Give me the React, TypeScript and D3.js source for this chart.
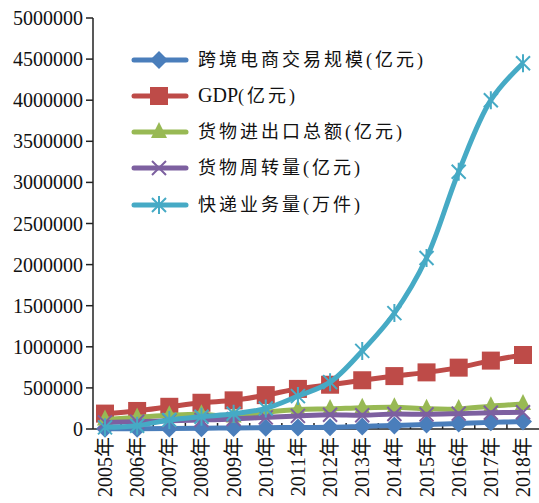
import React, { useRef, useEffect } from "react";
import * as d3 from "d3";

const years = ["2005年", "2006年", "2007年", "2008年", "2009年", "2010年", "2011年", "2012年", "2013年", "2014年", "2015年", "2016年", "2017年", "2018年"];

const ecommerce = [2000, 3000, 5000, 8000, 13000, 16000, 18000, 21000, 31500, 42000, 54000, 67000, 80600, 90000];
const gdp = [187318, 219438, 270092, 319245, 348517, 412119, 487940, 538580, 592963, 643563, 688858, 746395, 832035, 900309];
const goodsTrade = [116922, 140974, 166924, 179921, 150648, 201722, 236402, 244160, 258169, 264242, 245503, 243386, 278099, 305010];
const turnover = [80258, 88840, 101419, 110300, 122133, 141837, 159324, 173804, 168014, 181668, 178356, 186629, 197373, 204686];
const express = [20000, 40000, 110000, 150000, 185000, 250000, 400000, 570000, 950000, 1410000, 2080000, 3130000, 4000000, 4450000];

const seriesNames = ["跨境电商交易规模(亿元)", "GDP(亿元)", "货物进出口总额(亿元)", "货物周转量(亿元)", "快递业务量(万件)"];
const seriesColors = ["#4a7ebb", "#be4b48", "#98b954", "#7d60a0", "#46aac5"];
const seriesMarkers = ["diamond", "square", "triangle", "x", "star"];
const yTicks = [0, 500000, 1000000, 1500000, 2000000, 2500000, 3000000, 3500000, 4000000, 4500000, 5000000];

const FONT = "'Liberation Serif', 'Noto Sans CJK SC', serif";

function drawMarker(g: d3.Selection<SVGGElement, unknown, null, undefined>, type: string, x: number, y: number, color: string) {
  if (type === "diamond") {
    g.append("path").attr("d", `M${x},${y - 9}L${x + 9},${y}L${x},${y + 9}L${x - 9},${y}Z`).attr("fill", color);
  } else if (type === "square") {
    g.append("rect").attr("x", x - 9).attr("y", y - 9).attr("width", 18).attr("height", 18).attr("fill", color);
  } else if (type === "triangle") {
    g.append("path").attr("d", `M${x},${y - 10}L${x + 8},${y + 6}L${x - 8},${y + 6}Z`).attr("fill", color);
  } else if (type === "x") {
    g.append("path").attr("d", `M${x - 7},${y - 7}L${x + 7},${y + 7}M${x - 7},${y + 7}L${x + 7},${y - 7}`)
      .attr("stroke", color).attr("stroke-width", 2);
  } else {
    g.append("path").attr("d", `M${x - 7},${y - 7}L${x + 7},${y + 7}M${x - 7},${y + 7}L${x + 7},${y - 7}M${x},${y - 9}L${x},${y + 9}`)
      .attr("stroke", color).attr("stroke-width", 2);
  }
}

const App: React.FC = () => {
  const svgRef = useRef<SVGSVGElement>(null);

  useEffect(() => {
    if (!svgRef.current) return;
    const width = 539;
    const height = 503;
    const axisX = 93;
    const axisY = 429;

    const svg = d3.select(svgRef.current).attr("width", width).attr("height", height);
    svg.selectAll("*").remove();

    const x = d3.scalePoint<string>().domain(years).range([105, 523]);
    const y = d3.scaleLinear().domain([0, 5000000]).range([axisY, 18]);
    const step = x.step();

    // y轴
    const yAxis = svg.append("g");
    yAxis.append("line").attr("x1", axisX).attr("x2", axisX).attr("y1", y(5000000)).attr("y2", axisY)
      .attr("stroke", "#222").attr("stroke-width", 1.5);
    yTicks.forEach((t) => {
      yAxis.append("line").attr("x1", axisX - 7).attr("x2", axisX).attr("y1", y(t)).attr("y2", y(t))
        .attr("stroke", "#222").attr("stroke-width", 1.5);
      yAxis.append("text").attr("x", axisX - 10).attr("y", y(t)).attr("dy", "0.35em")
        .attr("text-anchor", "end").attr("font-family", FONT).attr("font-size", 20).attr("fill", "#111")
        .text(String(t));
    });

    // x轴
    const xAxis = svg.append("g");
    xAxis.append("line").attr("x1", axisX).attr("x2", width).attr("y1", axisY).attr("y2", axisY)
      .attr("stroke", "#222").attr("stroke-width", 1.5);
    years.forEach((yr, i) => {
      const cx = x(yr) as number;
      if (i < years.length - 1) {
        xAxis.append("line").attr("x1", cx + step / 2).attr("x2", cx + step / 2).attr("y1", axisY - 6).attr("y2", axisY)
          .attr("stroke", "#222").attr("stroke-width", 1.5);
      }
      xAxis.append("text").attr("transform", `translate(${cx},437) rotate(-90)`).attr("dy", "0.35em")
        .attr("text-anchor", "end").attr("font-family", FONT).attr("font-size", 20).attr("fill", "#111")
        .text(yr);
    });

    // 折线
    const allSeries = [ecommerce, gdp, goodsTrade, turnover, express];
    const line = d3.line<number>().x((_, i) => x(years[i]) as number).y((d) => y(d)).curve(d3.curveCatmullRom);
    allSeries.forEach((vals, s) => {
      const g = svg.append("g");
      g.append("path").datum(vals).attr("d", line).attr("fill", "none")
        .attr("stroke", seriesColors[s]).attr("stroke-width", 5).attr("stroke-linejoin", "round");
      vals.forEach((v, i) => drawMarker(g, seriesMarkers[s], x(years[i]) as number, y(v), seriesColors[s]));
    });

    // 图例
    const legend = svg.append("g");
    const rowY = [60, 96, 132, 168, 205];
    seriesNames.forEach((name, s) => {
      const ly = rowY[s];
      legend.append("line").attr("x1", 134).attr("x2", 186).attr("y1", ly).attr("y2", ly)
        .attr("stroke", seriesColors[s]).attr("stroke-width", 5).attr("stroke-linecap", "round");
      drawMarker(legend, seriesMarkers[s], 159, ly, seriesColors[s]);
      const text = legend.append("text").attr("x", 198).attr("y", ly).attr("dy", "0.35em")
        .attr("font-family", FONT).attr("fill", "#111");
      // 拉丁字母不加字距
      const runs = name.match(/[A-Za-z]+|[^A-Za-z]+/g) ?? [name];
      runs.forEach((r) => {
        const latin = /^[A-Za-z]+$/.test(r);
        text.append("tspan").attr("font-size", latin ? 20 : 18).attr("letter-spacing", latin ? 0 : 3).text(r);
      });
    });
  }, []);

  return <svg ref={svgRef} style={{ position: "absolute", left: 0, top: 0, background: "#fff" }}></svg>;
};

export default App;
